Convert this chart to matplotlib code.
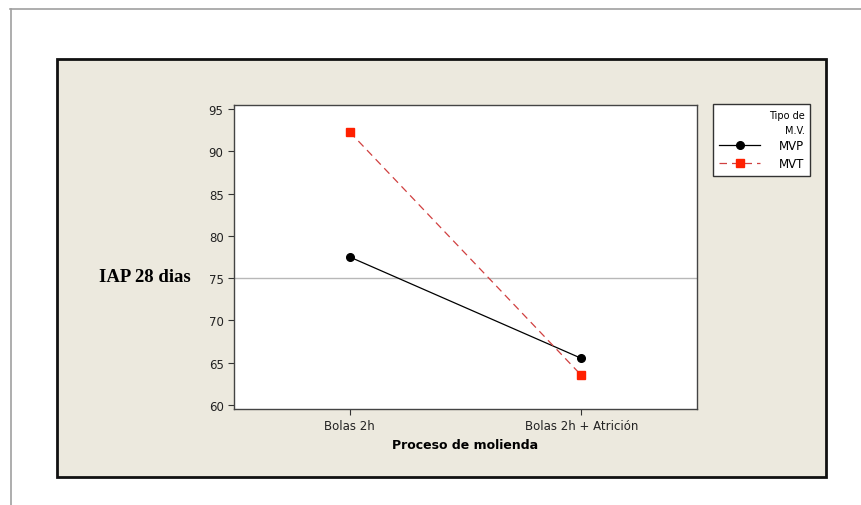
import matplotlib
matplotlib.use('Agg')
import matplotlib.pyplot as plt
from matplotlib.patches import Rectangle
from matplotlib.lines import Line2D

# Interaction plot data: mean IAP at 28 days per milling process
procesos = ['Bolas 2h', 'Bolas 2h + Atrición']
mvp = [77.5, 65.5]
mvt = [92.3, 63.5]
ref_line = 75

W, H = 861, 506
fig = plt.figure(figsize=(W / 100, H / 100), dpi=100)
fig.patch.set_facecolor('white')


def fx(px):
    return px / W


def fy(py):
    return 1 - py / H


# outer frame (top and left edges only)
fig.add_artist(Line2D([fx(10), 1], [fy(9.5), fy(9.5)], color='#a0a0a0', lw=1.2))
fig.add_artist(Line2D([fx(10.5), fx(10.5)], [fy(9.5), 0], color='#a0a0a0', lw=1.2))

# beige panel
fig.add_artist(Rectangle((fx(57), fy(478)), fx(826) - fx(57), fy(60) - fy(478),
                         facecolor='#ECE9DE', edgecolor='#111111', lw=2,
                         transform=fig.transFigure, zorder=0))

ax = fig.add_axes([fx(234), fy(410), fx(697) - fx(234), fy(106) - fy(410)])
ax.set_facecolor('white')

x = [1, 2]
ax.axhline(ref_line, color='#b8b8b8', lw=1, zorder=1)
ax.plot(x, mvp, color='black', lw=0.9, marker='o', ms=5.5, label='MVP', zorder=3)
ax.plot(x, mvt, color='#d04040', lw=0.9, ls=(0, (6, 4)), marker='s', ms=5.5,
        mfc='#ff2000', mec='#ff2000', label='MVT', zorder=3)

ax.set_xlim(0.5, 2.5)
ax.set_ylim(59.5, 95.5)
ax.set_xticks(x)
ax.set_xticklabels(procesos)
ax.set_yticks(range(60, 96, 5))
ax.tick_params(direction='out', length=4, width=0.8, colors='#333333',
               labelsize=8.5, labelcolor='#222222')
for s in ax.spines.values():
    s.set_color('#444444')
    s.set_linewidth(1)

ax.set_xlabel('Proceso de molienda', fontsize=9, fontweight='bold', labelpad=4)
fig.text(fx(145), fy(278), 'IAP 28 dias', family='Liberation Serif', fontweight='bold',
         fontsize=13.5, ha='center', va='center')

leg = ax.legend(loc='upper left', bbox_to_anchor=(fx(713), fy(105)),
                bbox_transform=fig.transFigure, title='Tipo de\nM.V.',
                fontsize=8.5, title_fontsize=7, frameon=True, fancybox=False,
                edgecolor='#333333', facecolor='white', framealpha=1,
                borderpad=0.5, borderaxespad=0, handlelength=3.5,
                handletextpad=1.6, labelspacing=0.4)
leg.get_frame().set_linewidth(1)
leg.get_title().set_multialignment('right')
leg.get_title().set_linespacing(1.6)
leg._legend_box.align = 'right'

fig.savefig('out.png', dpi=100)
